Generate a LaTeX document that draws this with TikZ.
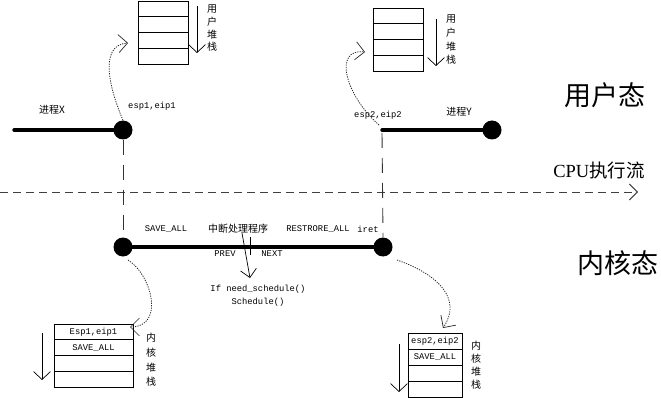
\documentclass[tikz,border=0pt]{standalone}
\usepackage{fontspec}
\setmainfont{Liberation Serif}
\setmonofont{Liberation Mono}
\newfontfamily\cjk{Noto Sans CJK SC}
\usetikzlibrary{arrows.meta}
\begin{document}
\begin{tikzpicture}[x=1pt,y=-1pt,
  dotnode/.style={circle,fill=black,inner sep=0pt,minimum size=19pt},
  thickline/.style={line width=3.4pt,line cap=round},
  guide/.style={draw=black!80,line width=0.9pt,dash pattern=on 15pt off 10pt},
  flow/.style={draw=black!75,line width=0.9pt,dash pattern=on 8pt off 5pt,-{Straight Barb[length=8pt,width=16pt]}},
  dotarrow/.style={draw=black!85,line width=0.8pt,dash pattern=on 1.2pt off 1.2pt,-{Straight Barb[length=9pt,width=18pt,line width=0.7pt,sep=0pt]}},
  stackarrow/.style={draw,line width=0.7pt,-{Straight Barb[length=8pt,width=17pt]}},
  plain/.style={draw,line width=0.7pt,-{Straight Barb[length=8pt,width=16pt]}},
  ucell/.style={draw,line width=0.7pt,minimum width=50pt,minimum height=15.75pt,inner sep=0pt},
  kcell/.style={draw,line width=0.7pt,minimum width=79pt,minimum height=15.75pt,inner sep=0pt,font=\ttfamily\fontsize{8.8}{9}\selectfont},
  kcellb/.style={kcell,minimum width=54pt,minimum height=16pt},
  mono/.style={font=\ttfamily\fontsize{8.8}{9}\selectfont,inner sep=0pt},
  small/.style={font=\cjk\fontsize{10}{12}\selectfont,inner sep=0pt},
  vlabel/.style={font=\cjk\fontsize{10}{#1}\selectfont,align=center,inner sep=0pt},
  big/.style={font=\cjk\fontsize{27}{30}\selectfont,inner sep=0pt}
]
\useasboundingbox (0,0) rectangle (661,398);

% ---- user stacks ----
\node[ucell] (u1a) at (163,8.9) {};
\node[ucell] (u1b) at (163,24.6) {};
\node[ucell] (u1c) at (163,40.4) {};
\node[ucell] (u1d) at (163,56.1) {};
\coordinate (u1s) at (197,6);
\coordinate (u1e) at (197,53);
\draw[stackarrow] (u1s) -- (u1e);
\node[vlabel=12.7] (u1l) at (212,28.5) {用\\户\\堆\\栈};

\node[ucell] (u2a) at (398,15.9) {};
\node[ucell] (u2b) at (398,31.6) {};
\node[ucell] (u2c) at (398,47.4) {};
\node[ucell] (u2d) at (398,63.1) {};
\coordinate (u2s) at (436,19);
\coordinate (u2e) at (436,66);
\draw[stackarrow] (u2s) -- (u2e);
\node[vlabel=13.7] (u2l) at (451,40) {用\\户\\堆\\栈};

% ---- kernel stacks ----
\node[kcell] (k1a) at (93.5,331.9) {Esp1,eip1};
\node[kcell] (k1b) at (93.5,347.6) {SAVE\_ALL};
\node[kcell] (k1c) at (93.5,363.4) {};
\node[kcell] (k1d) at (93.5,379.1) {};
\coordinate (k1s) at (42,333);
\coordinate (k1e) at (42,380);
\draw[stackarrow] (k1s) -- (k1e);
\node[vlabel=14.7] (k1l) at (151,360) {内\\核\\堆\\栈};

\node[kcellb] (k2a) at (435,341) {esp2,eip2};
\node[kcellb] (k2b) at (435,357) {SAVE\_ALL};
\node[kcellb] (k2c) at (435,373) {};
\node[kcellb] (k2d) at (435,389) {};
\coordinate (k2s) at (399,344);
\coordinate (k2e) at (399,392);
\draw[stackarrow] (k2s) -- (k2e);
\node[vlabel=13] (k2l) at (476,365.5) {内\\核\\堆\\栈};

% ---- CPU flow ----
\coordinate (fs) at (0,192);
\coordinate (fe) at (638,192);
\draw[flow] (fs) -- (fe);

% ---- user mode lines ----
\coordinate (xs) at (14,130);
\node[dotnode] (dx) at (123,130) {};
\draw[thickline] (xs) -- (dx.center);
\coordinate (ys) at (382,130);
\node[dotnode] (dy) at (492,130) {};
\draw[thickline] (ys) -- (dy.center);

% ---- kernel line ----
\node[dotnode] (kl) at (123,247) {};
\node[dotnode] (kr) at (383,247) {};
\draw[thickline] (kl.center) -- (kr.center);

% ---- guides ----
\draw[guide] (dx.south) -- (kl.north);
\coordinate (ysd) at (382,133);
\draw[guide] (ysd) -- (kr.north);

% ---- dotted context arrows ----
\coordinate (u1in) at (128,43);
\draw[dotarrow] (dx.north) .. controls (110,90) and (98,45) .. (u1in);
\coordinate (ysu) at (379,125);
\coordinate (u2in) at (365,52);
\draw[dotarrow] (ysu) .. controls (345,95) and (333,48) .. (u2in);
\coordinate (klo) at (128,260);
\coordinate (k1in) at (130,327);
\draw[dotarrow] (klo) .. controls (152,275) and (165,327) .. (k1in);
\coordinate (kro) at (397,260);
\coordinate (k2in) at (443,328);
\draw[dotarrow] (kro) .. controls (440,275) and (462,300) .. (k2in);

% ---- labels ----
\node[small] (lx) at (52,110) {进程X};
\node[mono] (le1) at (152,106) {esp1,eip1};
\node[mono] (le2) at (378,115) {esp2,eip2};
\node[small] (ly) at (459,112) {进程Y};
\node[mono] (lsave) at (166,229) {SAVE\_ALL};
\node[small] (lint) at (238,229) {中断处理程序};
\node[mono] (lrest) at (318,229) {RESTRORE\_ALL};
\node[mono] (liret) at (368,229) {iret};
\node[mono] (lprev) at (225,254) {PREV};
\node[mono] (lnext) at (272,254) {NEXT};
\coordinate (tt) at (250,237);
\coordinate (tb) at (250,255);
\draw[line width=0.7pt] (tt) -- (tb);
\coordinate (as) at (242,233);
\coordinate (ae) at (250,278);
\draw[plain] (as) -- (ae);
\node[mono] (lif) at (258,289) {If need\_schedule()};
\node[mono] (lsch) at (258,302) {Schedule()};

\node[big] (luser) at (605,95) {用户态};
\node[inner sep=0pt,font=\fontsize{18.5}{20}\selectfont] (lcpu) at (599,170) {CPU{\cjk 执行流}};
\node[big] (lkern) at (618,263) {内核态};
\end{tikzpicture}
\end{document}
